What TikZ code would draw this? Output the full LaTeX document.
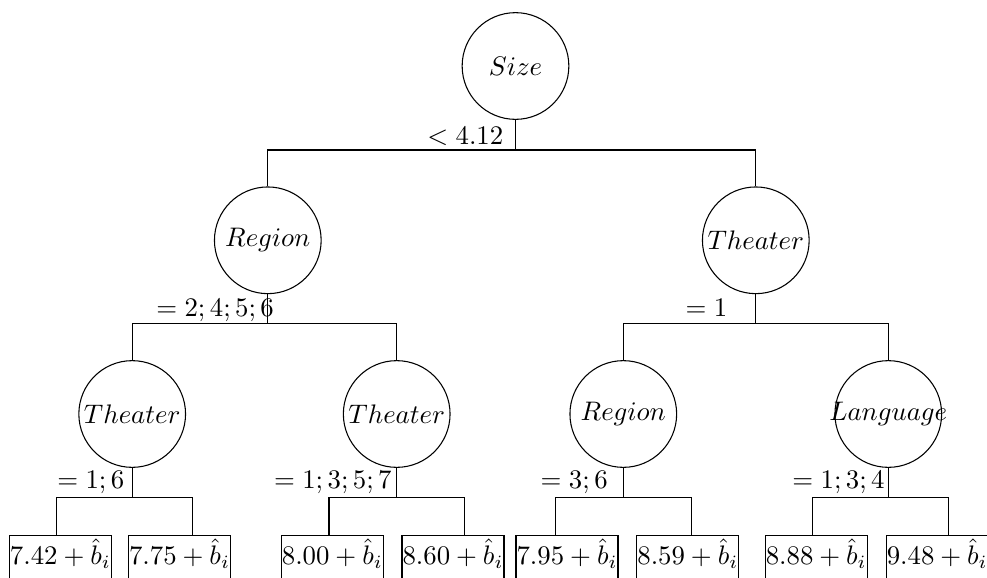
\documentclass[tikz,border=0pt]{standalone}
\begin{document}
\begin{tikzpicture}[x=0.373pt,y=-0.373pt,
  split/.style={circle,draw,minimum size=39.8pt,inner sep=0pt},
  leaf/.style={rectangle,draw,anchor=base,inner xsep=0.2pt,inner ysep=1pt,text height=9.8pt,text depth=5.3pt},
  cond/.style={anchor=base west,inner sep=0pt},
  line width=0.4pt]
\useasboundingbox (0,0) rectangle (987,578);
% split nodes
\node[split] (size) at (515.5,66) {\makebox[0pt]{$Size$}};
\node[split] (regA) at (267.8,240.3) {\makebox[0pt]{$Region$}};
\node[split] (theB) at (755.8,240.3) {\makebox[0pt]{$Theater$}};
\node[split] (theC) at (132.2,414) {\makebox[0pt]{$Theater$}};
\node[split] (theD) at (396.7,414) {\makebox[0pt]{$Theater$}};
\node[split] (regE) at (623.3,414) {\makebox[0pt]{$Region$}};
\node[split] (lanF) at (888.3,414) {\makebox[0pt]{$Language$}};
% leaves
\node[leaf] (l1) at (60.4,564.5) {$7.42+\hat{b}_i$};
\node[leaf] (l2) at (179.5,564.5) {$7.75+\hat{b}_i$};
\node[leaf] (l3) at (332.3,564.5) {$8.00+\hat{b}_i$};
\node[leaf] (l4) at (453,564.5) {$8.60+\hat{b}_i$};
\node[leaf] (l5) at (567,564.5) {$7.95+\hat{b}_i$};
\node[leaf] (l6) at (687.8,564.5) {$8.59+\hat{b}_i$};
\node[leaf] (l7) at (816.2,564.5) {$8.88+\hat{b}_i$};
\node[leaf] (l8) at (937.2,564.5) {$9.48+\hat{b}_i$};
% junctions
\coordinate (j0) at (515.5,150);
\coordinate (jA) at (267.8,323.3);
\coordinate (jB) at (755.8,323.3);
\coordinate (jC) at (132.2,497.3);
\coordinate (jD) at (396.7,497.3);
\coordinate (jE) at (623.3,497.3);
\coordinate (jF) at (888.3,497.3);
\path (l1.north) ++(-3.7,0) coordinate (c1);
\path (l2.north) ++(13.2,0) coordinate (c2);
\path (l3.north) ++(-3.3,0) coordinate (c3);
\path (l4.north) ++(11.3,0) coordinate (c4);
\path (l5.north) ++(-11.3,0) coordinate (c5);
\path (l6.north) ++(3.9,0) coordinate (c6);
\path (l7.north) ++(-3.9,0) coordinate (c7);
\path (l8.north) ++(11.1,0) coordinate (c8);
% connectors
\draw (size.south) -- (j0);
\draw (regA.north) |- (j0) -| (theB.north);
\draw (regA.south) -- (jA);
\draw (theC.north) |- (jA) -| (theD.north);
\draw (theB.south) -- (jB);
\draw (regE.north) |- (jB) -| (lanF.north);
\draw (theC.south) -- (jC);
\draw (c1) |- (jC) -| (c2);
\draw (theD.south) -- (jD);
\draw (c3) |- (jD) -| (c4);
\draw (regE.south) -- (jE);
\draw (c5) |- (jE) -| (c6);
\draw (lanF.south) -- (jF);
\draw (c7) |- (jF) -| (c8);
% condition labels
\node[cond] (k0) at (426.8,144) {$<4.12$};
\node[cond] (kA) at (155.8,316) {$=2;4;5;6$};
\node[cond] (kB) at (685.2,316.5) {$=1$};
\node[cond] (kC) at (56.8,488) {$=1;6$};
\node[cond] (kD) at (273.5,488) {$=1;3;5;7$};
\node[cond] (kE) at (540.2,488) {$=3;6$};
\node[cond] (kF) at (791.8,488) {$=1;3;4$};
\end{tikzpicture}
\end{document}
